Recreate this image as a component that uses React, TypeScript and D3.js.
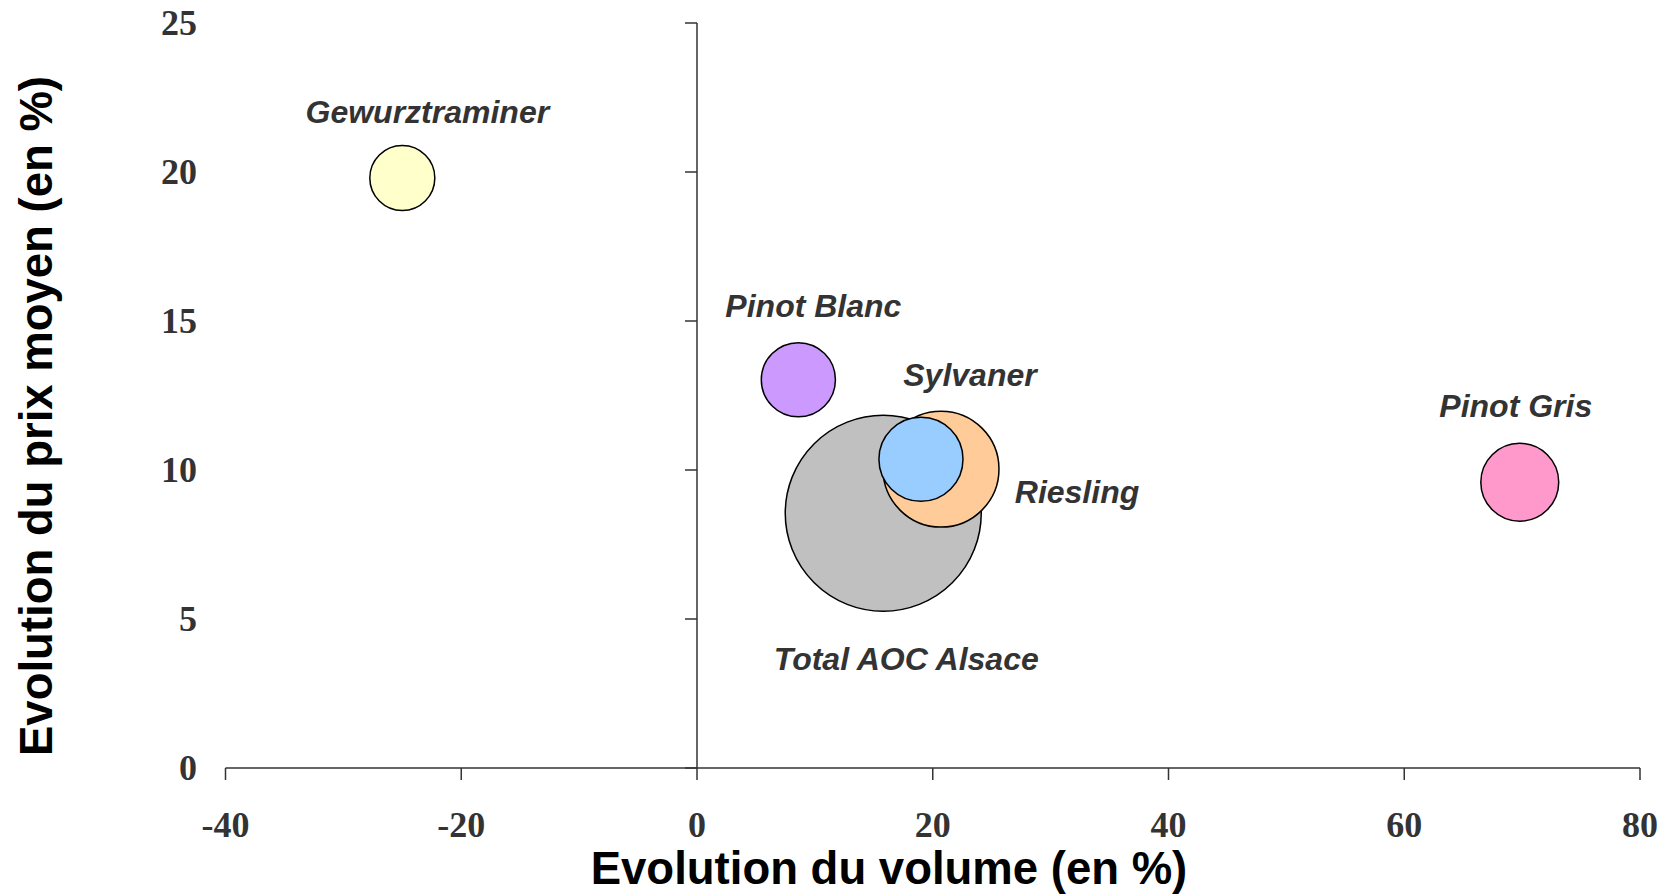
import React from "react";
import * as d3 from "d3";

const names = ["Total AOC Alsace", "Riesling", "Sylvaner", "Pinot Blanc", "Gewurztraminer", "Pinot Gris"];
const volumeChange = [15.8, 20.7, 19.0, 8.6, -25.0, 69.8];
const priceChange = [8.55, 10.03, 10.36, 13.03, 19.8, 9.59];
const bubbleSize = [100, 35, 18.4, 14.3, 11, 15.8];
const xTicks = [-40, -20, 0, 20, 40, 60, 80];
const yTicks = [0, 5, 10, 15, 20, 25];

const fills = ["#C0C0C0", "#FFCC99", "#99CCFF", "#CC99FF", "#FFFFCC", "#FF99CC"];
// label offsets (px) relative to bubble centre: [dx, dy baseline]
const labelOffsets: [number, number][] = [
  [23, 157],
  [136, 34],
  [49, -73],
  [15, -63],
  [25, -55],
  [-4, -65],
];

const W = 1664;
const H = 896;

export default function App() {
  const x = d3.scaleLinear().domain([-40, 80]).range([225.5, 1640]);
  const y = d3.scaleLinear().domain([0, 25]).range([768, 23]);
  const r = d3.scaleSqrt().domain([0, 100]).range([0, 98]);
  const axisColor = "#333333";
  const tickFont = "'Liberation Serif', 'Times New Roman', serif";
  const sans = "'Liberation Sans', Arial, sans-serif";

  return (
    <svg width={W} height={H} style={{ position: "absolute", left: 0, top: 0, background: "#fff" }}>
      {/* x axis */}
      <line x1={x(-40)} x2={x(80)} y1={y(0)} y2={y(0)} stroke={axisColor} strokeWidth={1.5} />
      {xTicks.map((t) => (
        <g key={"xt" + t}>
          <line x1={x(t)} x2={x(t)} y1={y(0)} y2={y(0) + 12} stroke={axisColor} strokeWidth={1.5} />
          <text
            x={x(t)}
            y={837}
            textAnchor="middle"
            fontFamily={tickFont}
            fontWeight="bold"
            fontSize={36}
            fill="#333"
          >
            {t}
          </text>
        </g>
      ))}
      {/* y axis */}
      <line x1={x(0)} x2={x(0)} y1={y(0)} y2={y(25)} stroke={axisColor} strokeWidth={1.5} />
      {yTicks.map((t) => (
        <g key={"yt" + t}>
          <line x1={x(0) - 12} x2={x(0)} y1={y(t)} y2={y(t)} stroke={axisColor} strokeWidth={1.5} />
          <text
            x={197}
            y={y(t)}
            dy="0.34em"
            textAnchor="end"
            fontFamily={tickFont}
            fontWeight="bold"
            fontSize={36}
            fill="#333"
          >
            {t}
          </text>
        </g>
      ))}
      {/* bubbles */}
      {names.map((n, i) => (
        <circle
          key={"c" + n}
          cx={x(volumeChange[i])}
          cy={y(priceChange[i])}
          r={r(bubbleSize[i])}
          fill={fills[i]}
          stroke="#000"
          strokeWidth={1.5}
        />
      ))}
      {/* labels */}
      {names.map((n, i) => (
        <text
          key={"l" + n}
          x={x(volumeChange[i]) + labelOffsets[i][0]}
          y={y(priceChange[i]) + labelOffsets[i][1]}
          textAnchor="middle"
          fontFamily={sans}
          fontWeight="bold"
          fontStyle="italic"
          fontSize={32}
          fill="#333"
        >
          {n}
        </text>
      ))}
      {/* axis titles */}
      <text
        x={889}
        y={884}
        textAnchor="middle"
        fontFamily={sans}
        fontWeight="bold"
        fontSize={45.5}
        fill="#000"
      >
        Evolution du volume (en %)
      </text>
      <text
        transform={`translate(52, 416) rotate(-90)`}
        textAnchor="middle"
        fontFamily={sans}
        fontWeight="bold"
        fontSize={45.5}
        fill="#000"
      >
        Evolution du prix moyen (en %)
      </text>
    </svg>
  );
}
